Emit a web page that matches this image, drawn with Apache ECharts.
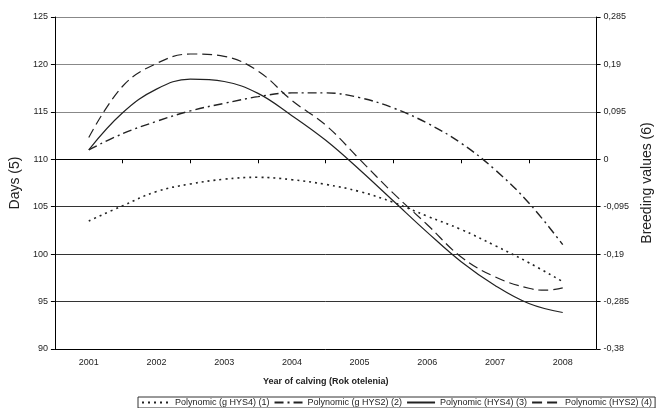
<!DOCTYPE html>
<html>
<head>
<meta charset="utf-8">
<script src="https://cdn.jsdelivr.net/npm/echarts@6/dist/echarts.min.js"></script>
<style>html,body{margin:0;padding:0;background:#fff}#c{width:662px;height:408px}</style>
</head>
<body>
<div id="c"></div>
<script>
var categories = ['2001','2002','2003','2004','2005','2006','2007','2008'];
var leftTicks = [90, 95, 100, 105, 110, 115, 120, 125];
var rightTickLabels = ['-0,38','-0,285','-0,19','-0,095','0','0,095','0,19','0,285'];
var seriesNames = ['Polynomic (g HYS4) (1)','Polynomic (g HYS2) (2)','Polynomic (HYS4) (3)','Polynomic (HYS2) (4)'];

var years = [2001,2001.5,2002,2002.5,2003,2003.5,2004,2004.5,2005,2005.5,2006,2006.5,2007,2007.5,2008];
var gHYS4 = [103.5,105.1,106.6,107.4,107.9,108.1,107.85,107.35,106.6,105.45,104.0,102.6,100.9,99.1,97.1];
var gHYS2 = [111.0,112.7,114.0,115.1,115.9,116.6,117.0,117.0,116.5,115.4,113.8,111.7,108.9,105.4,101.0];
var HYS4  = [111.0,114.9,117.4,118.45,118.2,116.95,114.6,112.0,108.9,105.6,102.3,99.2,96.7,94.8,93.85];
var hys2Years = [2001,2001.5,2002,2002.5,2003,2003.5,2004,2004.5,2005,2005.5,2006,2006.5,2007,2007.5,2007.75,2008];
var HYS2  = [112.3,117.7,120.1,121.1,120.85,119.3,116.2,113.6,110.0,106.4,103.1,99.7,97.6,96.4,96.2,96.45];

function pairs(xs, ys){ return xs.map(function(x,i){ return [x, ys[i]]; }); }

var chart = echarts.init(document.getElementById('c'));
var font = 'Liberation Sans, Arial, sans-serif';
var ink = '#222';
function lineSeries(name, xs, ys, type, width){
  return {
    name: name, type: 'line', xAxisIndex: 1, yAxisIndex: 0,
    data: pairs(xs, ys), smooth: 0.4, symbol: 'none', showSymbol: false,
    lineStyle: {color: ink, width: width, type: type},
    itemStyle: {color: ink},
    animation: false
  };
}
var rMin = -0.38, rStep = 0.095;
chart.setOption({
  animation: false,
  textStyle: {fontFamily: font},
  grid: {left: 46, right: 53, top: 17, bottom: 59, containLabel: false},
  legend: {
    bottom: 0, left: 138,
    data: seriesNames,
    itemWidth: 28, itemHeight: 8, itemGap: 4,
    padding: [1, 3, 1, 3],
    borderColor: '#333', borderWidth: 1,
    itemStyle: {opacity: 0},
    textStyle: {fontSize: 9, color: ink, fontFamily: font}
  },
  xAxis: [{
    type: 'category', data: categories, boundaryGap: true,
    axisLine: {lineStyle: {color: '#000', width: 1}},
    axisTick: {show: true, inside: false, length: 4, lineStyle: {color: '#000'}},
    axisLabel: {fontSize: 9, color: ink, margin: 9},
    name: 'Year of calving (Rok otelenia)', nameLocation: 'middle', nameGap: 28,
    nameTextStyle: {fontSize: 9, fontWeight: 'bold', color: ink},
    splitLine: {show: false}
  },{
    type: 'value', min: 2000.5, max: 2008.5, show: false
  }],
  yAxis: [{
    type: 'value', min: 90, max: 125, interval: 5,
    axisLine: {show: true, lineStyle: {color: '#000'}},
    axisTick: {show: true, length: 4, lineStyle: {color: '#000'}},
    axisLabel: {fontSize: 9, color: ink, margin: 7},
    splitLine: {show: true, lineStyle: {color: ['#000','#333','#333','#333','#333','#888','#888','#888'], width: 1}},
    name: 'Days (5)', nameLocation: 'middle', nameGap: 26, nameRotate: 90,
    nameTextStyle: {fontSize: 14, color: ink}
  },{
    type: 'value', min: rMin, max: 0.285, interval: rStep, position: 'right',
    axisLine: {show: true, lineStyle: {color: '#000'}},
    axisTick: {show: true, length: 4, lineStyle: {color: '#000'}},
    axisLabel: {fontSize: 9, color: ink, margin: 7, formatter: function(v){
      return rightTickLabels[Math.round((v - rMin) / rStep)];
    }},
    splitLine: {show: false},
    name: 'Breeding values (6)', nameLocation: 'middle', nameGap: 40, nameRotate: 90,
    nameTextStyle: {fontSize: 14, color: ink}
  }],
  series: [
    lineSeries(seriesNames[0], years, gHYS4, [2, 4], 1.6),
    lineSeries(seriesNames[1], years, gHYS2, [9, 4, 2, 4], 1.4),
    lineSeries(seriesNames[2], years, HYS4, 'solid', 1.2),
    lineSeries(seriesNames[3], hys2Years, HYS2, [10, 5], 1.2)
  ]
});
</script>
</body>
</html>
